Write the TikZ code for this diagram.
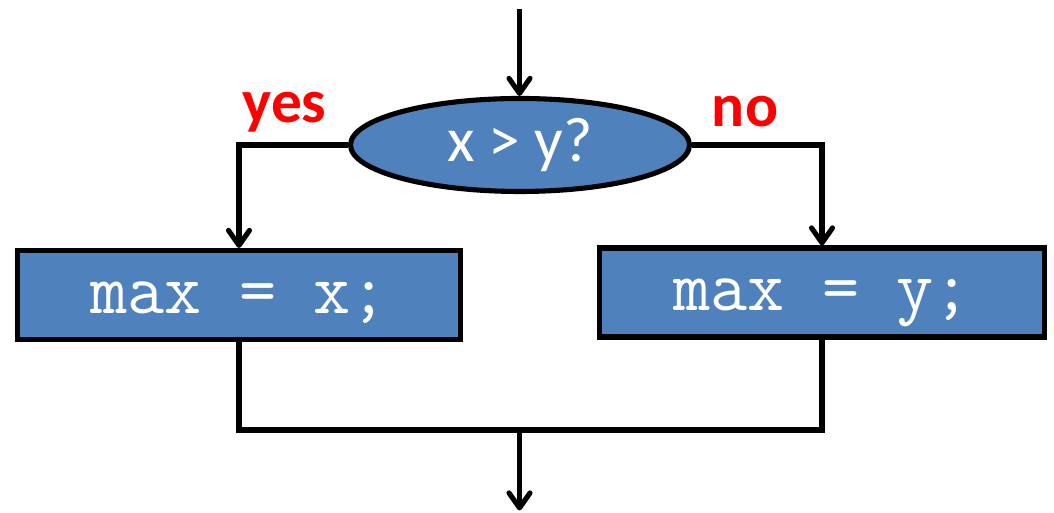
\documentclass[tikz,border=0pt]{standalone}
\usepackage{fontspec}
\setmainfont{Carlito}
\usepackage{xcolor}
\usetikzlibrary{arrows.meta,shapes.geometric}
\definecolor{boxblue}{HTML}{4F81BD}

\begin{document}
\begin{tikzpicture}[line width=2.9pt,>={Straight Barb[length=0.3cm,width=0.42cm,round]},
  cond/.style={ellipse,draw,fill=boxblue,text=white,inner sep=0pt,minimum width=6.78cm,minimum height=1.86cm,font=\fontsize{36}{40}\selectfont},
  stmt/.style={rectangle,draw,fill=boxblue,text=white,inner sep=0pt,minimum height=1.78cm,text height=0.74cm,text depth=0cm,font=\ttfamily\fontsize{41}{46}\selectfont},
  branch/.style={text=red,font=\bfseries\fontsize{35}{40}\selectfont}]
\useasboundingbox (0,0) rectangle (21.08,10.26);
\node[cond] (test) at (10.40,7.36) {x > y?};
\node[stmt,minimum width=8.86cm] (xbox) at (4.78,4.36) {max = x;};
\node[stmt,minimum width=8.90cm] (ybox) at (16.44,4.41) {max = y;};
\node[branch,anchor=base] (yes) at (5.69,7.80) {yes};
\node[branch,anchor=base] (no) at (14.90,7.72) {no};
\coordinate (in) at (10.39,10.08);
\coordinate (merge) at (10.39,1.66);
\coordinate (out) at (10.39,0.05);
\draw[->] (in) -- (in |- test.north);
\draw[->] (test.west) -| (xbox.north);
\draw[->] (test.east) -| (ybox.north);
\draw (xbox.south) |- (merge) -| (ybox.south);
\draw[->] (merge) -- (out);
\end{tikzpicture}
\end{document}
